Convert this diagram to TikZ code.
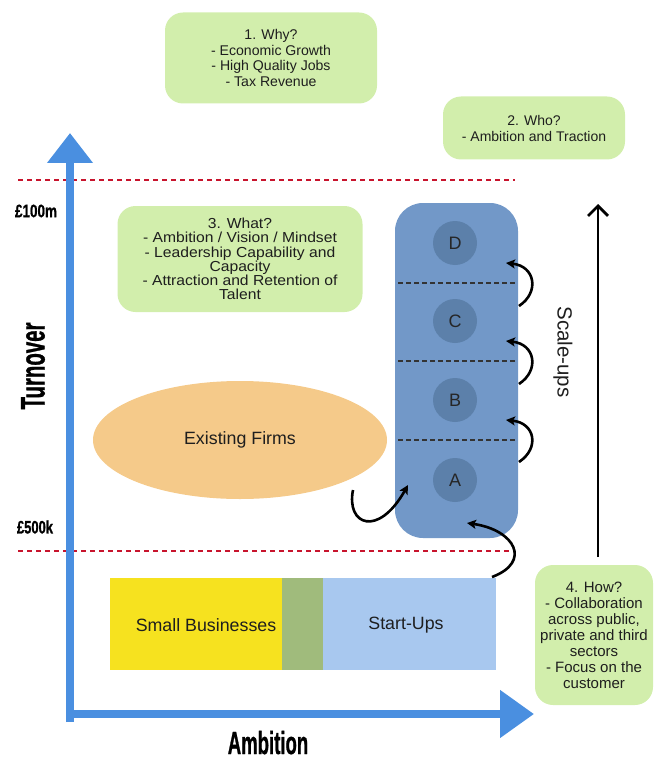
\documentclass[tikz,border=0pt]{standalone}
\usepackage{fontspec}
\setmainfont{Liberation Sans}
\newfontfamily\condfont[FakeBold=1.2]{Liberation Sans Bold}
\newfontfamily\widefont[FakeStretch=1.08]{Liberation Sans}
\usetikzlibrary{arrows.meta,shapes.geometric}
\definecolor{boxgreen}{RGB}{210,238,172}
\definecolor{orangef}{RGB}{245,202,138}
\definecolor{axisblue}{RGB}{74,143,224}
\definecolor{sbyellow}{RGB}{246,226,31}
\definecolor{olive}{RGB}{160,187,124}
\definecolor{lightblue}{RGB}{168,200,239}
\definecolor{scaleblue}{RGB}{114,152,200}
\definecolor{circblue}{RGB}{92,128,170}
\definecolor{reddash}{RGB}{200,20,45}
\definecolor{txt}{RGB}{30,30,30}
\tikzset{
  greenbox/.style={fill=boxgreen, rounded corners=18pt, align=center, text=txt, inner sep=0pt},
  lvl/.style={circle, fill=circblue, minimum size=44pt, inner sep=0pt, font=\fontsize{18}{18}\selectfont, text=black!85},
  redline/.style={reddash, line width=2pt, dash pattern=on 5pt off 4pt},
  divline/.style={black!80, line width=1.4pt, dash pattern=on 5pt off 3pt},
  curvearrow/.style={black, line width=2.6pt, -{Stealth[length=9pt,width=9pt,inset=2pt]}},
  axislabel/.style={font=\condfont\fontsize{34}{34}\selectfont, text=black},
  ticklabel/.style={font=\condfont\fontsize{18}{18}\selectfont, text=black},
  bodytext/.style={font=\fontsize{17.8}{20}\selectfont, text=txt}
}
\begin{document}
\begin{tikzpicture}[x=1pt,y=-1pt]
\useasboundingbox (0,0) rectangle (653,762);
% red dashed lines
\draw[redline] (18,180) -- (515,180);
\draw[redline] (18,551) -- (515,551);
% green boxes
\node[greenbox, minimum width=212pt, minimum height=91pt, font=\fontsize{14.1}{15.8}\selectfont] (why) at (271,58)
  {1. Why?\\- Economic Growth\\- High Quality Jobs\\- Tax Revenue};
\node[greenbox, minimum width=182pt, minimum height=63pt, font=\fontsize{14}{16}\selectfont] (who) at (534,128)
  {2. Who?\\- Ambition and Traction};
\node[greenbox, minimum width=245pt, minimum height=106pt, font=\widefont\fontsize{14.5}{14.2}\selectfont] (what) at (240,259)
  {3. What?\\- Ambition / Vision / Mindset\\- Leadership Capability and\\Capacity\\- Attraction and Retention of\\Talent};
\node[greenbox, minimum width=118pt, minimum height=140pt, font=\fontsize{15}{16}\selectfont] (how) at (594,635)
  {4. How?\\- Collaboration\\across public,\\private and third\\sectors\\- Focus on the\\customer};
% existing firms
\node[ellipse, fill=orangef, minimum width=294pt, minimum height=118pt, bodytext] (firms) at (240,440) {Existing Firms};
% scale-ups column
\node[fill=scaleblue, rounded corners=28pt, minimum width=123pt, minimum height=335pt, inner sep=0pt] (col) at (456.5,370.5) {};
\draw[divline] (398,283) -- (517,283);
\draw[divline] (398,361) -- (517,361);
\draw[divline] (398,440) -- (517,440);
\node[lvl] (D) at (455,243) {D};
\node[lvl] (C) at (455,321) {C};
\node[lvl] (B) at (455,400) {B};
\node[lvl] (A) at (455,480) {A};
% bar
\node[fill=sbyellow, minimum width=172pt, minimum height=92pt, inner sep=0pt] (small) at (196,624) {};
\node[fill=olive, minimum width=41pt, minimum height=92pt, inner sep=0pt] (mid) at (302.5,624) {};
\node[fill=lightblue, minimum width=173pt, minimum height=92pt, inner sep=0pt] (start) at (409.5,624) {};
\node[bodytext] (smalltxt) at (206,625) {Small Businesses};
\node[bodytext] (starttxt) at (406,625) {Start-Ups};
% axes
\coordinate (ytop) at (70,133);
\coordinate (xend) at (534,714);
\draw[axisblue, line width=8pt, -{Triangle[length=30pt,width=44pt]}] (70,722) -- (ytop);
\draw[axisblue, line width=8pt, -{Triangle[length=34pt,width=46pt]}] (66,714) -- (xend);
\node[axislabel, rotate=90] (turn) at (33,366) {\scalebox{0.6}[1]{Turnover}};
\node[axislabel, font=\condfont\fontsize{32}{32}\selectfont, inner sep=0pt, anchor=base] (amb) at (268,754) {\scalebox{0.58}[1]{Ambition}};
\node[ticklabel] (t100) at (36,211) {\scalebox{0.75}[1]{£100m}};
\node[ticklabel] (t500) at (35,527) {\scalebox{0.72}[1]{£500k}};
% scale-ups arrow
\coordinate (su0) at (598,557);
\coordinate (su1) at (598,204);
\draw[black, line width=2.8pt, -{Straight Barb[length=10pt,width=20pt,line width=2.8pt]}] (su0) -- (su1);
\node[rotate=-90, font=\fontsize{20.5}{22}\selectfont, text=txt] (sutxt) at (563,352) {Scale-ups};
% curved arrows
\coordinate (c1s) at (519,306); \coordinate (c1e) at (506,263);
\coordinate (c2s) at (519,384); \coordinate (c2e) at (506,341);
\coordinate (c3s) at (519,462); \coordinate (c3e) at (506,420);
\draw[curvearrow] (c1s) .. controls (540,292) and (535,266) .. (c1e);
\draw[curvearrow] (c2s) .. controls (540,370) and (535,344) .. (c2e);
\draw[curvearrow] (c3s) .. controls (540,448) and (535,423) .. (c3e);
\coordinate (h1s) at (353,490); \coordinate (h1e) at (408,485);
\draw[curvearrow] (h1s) .. controls (346,525) and (378,538) .. (h1e);
\coordinate (h2s) at (492,577); \coordinate (h2e) at (467,523);
\draw[curvearrow] (h2s) .. controls (532,562) and (515,530) .. (h2e);
\end{tikzpicture}
\end{document}
